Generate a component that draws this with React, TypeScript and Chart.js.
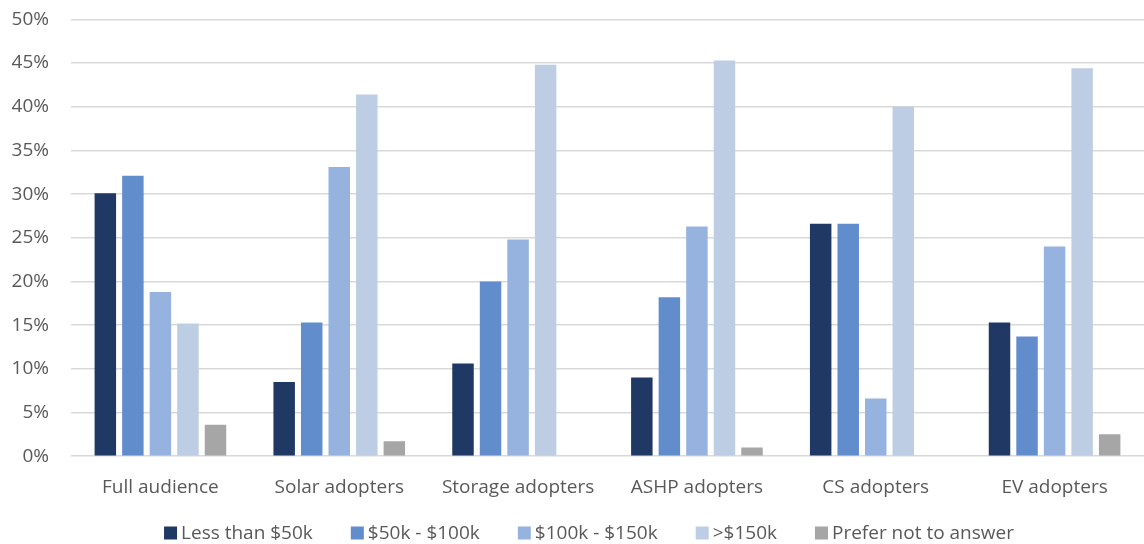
import React, { useEffect, useRef } from "react";
import { Chart, registerables } from "chart.js";

Chart.register(...registerables);

const categories = ["Full audience", "Solar adopters", "Storage adopters", "ASHP adopters", "CS adopters", "EV adopters"];
const seriesNames = ["Less than $50k", "$50k - $100k", "$100k - $150k", ">$150k", "Prefer not to answer"];
const lessThan50k = [30.1, 8.5, 10.6, 9.0, 26.6, 15.3];
const from50to100k = [32.1, 15.3, 20.0, 18.2, 26.6, 13.7];
const from100to150k = [18.8, 33.1, 24.8, 26.3, 6.6, 24.0];
const over150k = [15.2, 41.4, 44.8, 45.3, 40.0, 44.4];
const preferNot = [3.6, 1.7, 0, 1.0, 0, 2.5];
const colors = ["#203864", "#628dcd", "#95b3de", "#bccde4", "#a6a6a6"];
const yTicks = [0, 5, 10, 15, 20, 25, 30, 35, 40, 45, 50];

const FONT = "Open Sans";
const TEXT = "#595959";

const bottomLegend = {
  id: "bottomLegend",
  afterDraw(chart: any) {
    const ctx = chart.ctx;
    const box = 13;
    const boxGap = 4;
    const itemGap = 38;
    ctx.save();
    ctx.font = `19px "${FONT}"`;
    ctx.textBaseline = "middle";
    ctx.textAlign = "left";
    const items = chart.data.datasets.map((d: any) => ({
      label: d.label as string,
      color: d.backgroundColor as string,
      w: ctx.measureText(d.label).width,
    }));
    const total =
      items.reduce((s: number, it: any) => s + box + boxGap + it.w, 0) + itemGap * (items.length - 1);
    const centerX = chart.width / 2 + 17;
    const cy = 533;
    let x = centerX - total / 2;
    for (const it of items) {
      ctx.fillStyle = it.color;
      ctx.fillRect(x, cy - box / 2, box, box);
      x += box + boxGap;
      ctx.fillStyle = TEXT;
      ctx.fillText(it.label, x, cy + 1);
      x += it.w + itemGap;
    }
    ctx.restore();
  },
};

export default function App() {
  const ref = useRef<HTMLCanvasElement | null>(null);
  useEffect(() => {
    document.body.style.margin = "0";
    const values = [lessThan50k, from50to100k, from100to150k, over150k, preferNot];
    const chart = new Chart(ref.current!, {
      type: "bar",
      data: {
        labels: categories,
        datasets: seriesNames.map((n, i) => ({
          label: n,
          data: values[i],
          backgroundColor: colors[i],
          borderWidth: 0,
          categoryPercentage: 0.77,
          barPercentage: 0.78,
        })),
      },
      options: {
        animation: false,
        responsive: false,
        maintainAspectRatio: false,
        layout: { padding: { top: 0, right: 0, left: 11, bottom: 33 } },
        plugins: {
          legend: { display: false },
          tooltip: { enabled: false },
        },
        scales: {
          x: {
            grid: { display: false },
            border: { display: false },
            ticks: { color: TEXT, font: { family: FONT, size: 19 }, padding: 12 },
          },
          y: {
            min: 0,
            max: 50,
            afterBuildTicks: (axis: any) => {
              axis.ticks = yTicks.map((v) => ({ value: v }));
            },
            afterFit: (axis: any) => {
              axis.width = 60;
            },
            grid: { color: "#d9d9d9", lineWidth: 1.5, drawTicks: true, tickLength: 14, tickColor: "rgba(0,0,0,0)" },
            border: { display: false },
            ticks: {
              color: TEXT,
              font: { family: FONT, size: 19 },
              padding: 8,
              callback: (v: any) => v + "%",
            },
          },
        },
      },
      plugins: [bottomLegend],
    });
    return () => chart.destroy();
  }, []);
  return (
    <div style={{ position: "fixed", left: 0, top: 0, width: 1144, height: 544, background: "#fff" }}>
      <canvas ref={ref} width={1144} height={544} />
    </div>
  );
}
